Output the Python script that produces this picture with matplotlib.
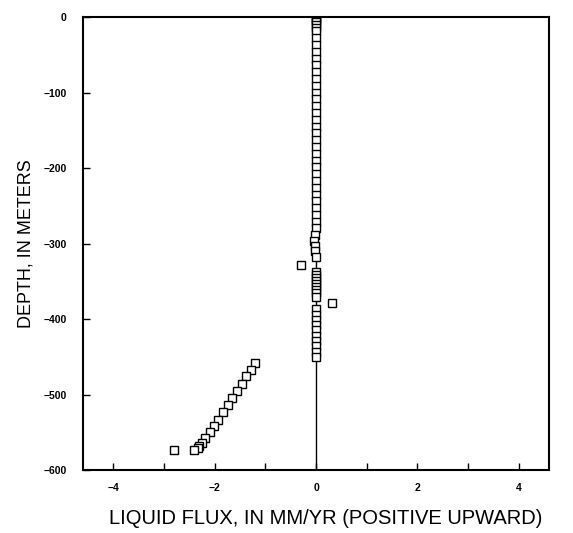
import matplotlib
matplotlib.use("Agg")
import matplotlib.pyplot as plt
import numpy as np

# flux profile (mm/yr) versus depth (m)
col_depth = [0, -2, -4, -7, -10, -14, -19, -28, -37, -46, -55, -64, -73, -82, -91, -100,
             -109, -118, -127, -136, -145, -154, -163, -172, -181, -190, -199, -208,
             -217, -226, -235, -244, -253, -262, -271, -280, -289, -296, -303, -310, -318]
col_flux = [0.0, 0.0, 0.0, 0.0, 0.0, 0.0, 0.0, 0.0, 0.0, 0.0, 0.0, 0.0, 0.0, 0.0, 0.0, 0.0,
            0.0, 0.0, 0.0, 0.0, 0.0, 0.0, 0.0, 0.0, 0.0, 0.0, 0.0, 0.0,
            0.0, 0.0, 0.0, 0.0, 0.0, 0.0, 0.0, -0.01, -0.02, -0.03, -0.02, -0.02, -0.01]

mid_depth = [-338, -342, -346, -350, -354, -358, -362, -366, -371,
             -387, -394, -401, -408, -415, -422, -429, -436, -443, -450]
mid_flux = [0.0, 0.0, 0.0, 0.0, 0.0, 0.0, 0.0, 0.0, 0.0,
            0.0, 0.0, 0.0, 0.0, 0.0, 0.0, 0.0, 0.0, 0.0, 0.0]

out_depth = [-328, -379]
out_flux = [-0.29, 0.31]

diag_depth = [-458, -467, -476, -486, -495, -505, -514, -523, -533, -541, -550, -558, -564, -568, -571, -573, -574]
diag_flux = [-1.2, -1.29, -1.38, -1.47, -1.56, -1.65, -1.74, -1.83, -1.93, -2.01, -2.1, -2.19, -2.26, -2.31, -2.34, -2.4, -2.8]

xticks = [-4, -3, -2, -1, 0, 1, 2, 3, 4]
xticklabels = ["\u22124", "", "\u22122", "", "0", "", "2", "", "4"]
yticks = [0, -100, -200, -300, -400, -500, -600]
yticklabels = ["0", "\u2212100", "\u2212200", "\u2212300", "\u2212400", "\u2212500", "\u2212600"]

plt.rcParams['font.family'] = ['Liberation Sans', 'DejaVu Sans']

fig = plt.figure(figsize=(5.73, 5.33), dpi=100)
ax = fig.add_axes([0.145, 0.118, 0.813, 0.850])

ax.axvline(0, color="black", lw=1.0, zorder=1)

depth = col_depth + mid_depth + out_depth + diag_depth
flux = col_flux + mid_flux + out_flux + diag_flux
ax.plot(flux, depth, linestyle="none", marker="s", markersize=5.5,
        markerfacecolor="white", markeredgecolor="black", markeredgewidth=1.0, zorder=2)

ax.set_xlim(-4.6, 4.6)
ax.set_ylim(-600, 0)
ax.set_xticks(xticks)
ax.set_xticklabels(xticklabels, fontsize=7.5, fontweight="bold")
ax.set_yticks(yticks)
ax.set_yticklabels(yticklabels, fontsize=7.5, fontweight="bold")
ax.tick_params(direction="in", length=5, width=1.0)
ax.tick_params(axis="x", pad=9)
ax.tick_params(axis="y", pad=12)

for s in ax.spines.values():
    s.set_linewidth(1.5)

ax.set_xlabel("LIQUID FLUX, IN MM/YR (POSITIVE UPWARD)", fontsize=14.5, labelpad=12)
ax.xaxis.set_label_coords(0.52, -0.085)
ax.set_ylabel("DEPTH, IN METERS", fontsize=13, labelpad=6)

fig.savefig("out.png", dpi=100)
